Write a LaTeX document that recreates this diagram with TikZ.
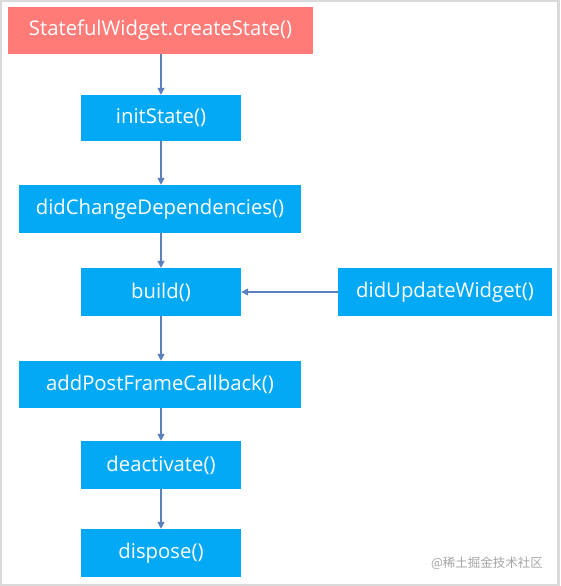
\documentclass[tikz,border=0pt]{standalone}
\usepackage{fontspec}
\setmainfont{Open Sans}
\newfontfamily\cjk{Noto Sans CJK SC}
\usetikzlibrary{arrows.meta}
\definecolor{boxblue}{HTML}{03A9F4}
\definecolor{boxred}{HTML}{FF7B78}
\definecolor{arrowc}{HTML}{5B80BD}
\definecolor{framec}{HTML}{DADADA}
\begin{document}
\begin{tikzpicture}[x=1pt,y=-1pt,
  box/.style={fill=boxblue, text=white, inner sep=0pt, font=\fontsize{20.3}{24}\selectfont},
  arr/.style={draw=arrowc, line width=1.3pt, -{Triangle[length=7pt,width=7pt]}}]
\fill[framec] (0,0) rectangle (560,586);
\fill[white] (2,2) rectangle (557,584);
\useasboundingbox (0,0) rectangle (560,586);
\node[box, fill=boxred, minimum width=305pt, minimum height=47pt] (cs) at (160.5,30.5) {StatefulWidget.createState()};
\node[box, minimum width=160pt, minimum height=46pt] (init) at (161,118) {initState()};
\node[box, minimum width=282pt, minimum height=48pt] (dcd) at (160,209) {didChangeDependencies()};
\node[box, minimum width=160pt, minimum height=48pt] (build) at (161,292) {build()};
\node[box, minimum width=214pt, minimum height=48pt] (duw) at (445,292) {didUpdateWidget()};
\node[box, minimum width=282pt, minimum height=47pt] (apfc) at (160,384.5) {addPostFrameCallback()};
\node[box, minimum width=160pt, minimum height=48pt] (deact) at (161,465) {deactivate()};
\node[box, minimum width=160pt, minimum height=48pt] (disp) at (161,553) {dispose()};
\node[text=gray!70, font=\cjk\fontsize{12.5}{15}\selectfont] (wm) at (487,563) {@稀土掘金技术社区};
\draw[arr] (cs.south -| init.north) -- (init.north);
\draw[arr] (init) -- (dcd.north -| init.south);
\draw[arr] (dcd.south -| build.north) -- (build.north);
\draw[arr] (build) -- (apfc.north -| build.south);
\draw[arr] (apfc.south -| deact.north) -- (deact.north);
\draw[arr] (deact) -- (disp);
\draw[arr] (duw) -- (build);
\end{tikzpicture}
\end{document}
